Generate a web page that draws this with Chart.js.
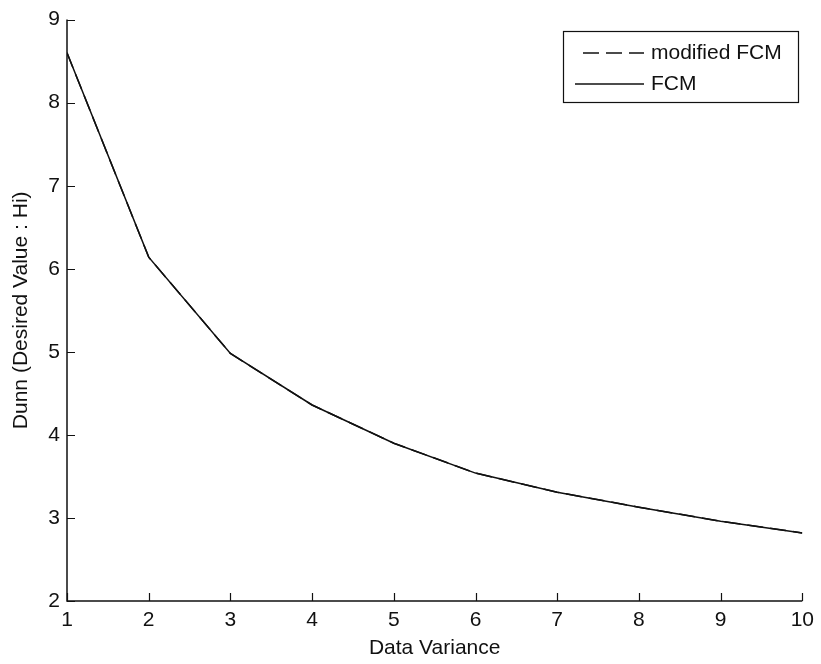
<!DOCTYPE html>
<html>
<head>
<meta charset="utf-8">
<script src="https://cdn.jsdelivr.net/npm/chart.js@4.4.0/dist/chart.umd.min.js"></script>
<style>
  html, body { margin: 0; padding: 0; background: #ffffff; }
  #wrap { width: 821px; height: 664px; position: relative; }
</style>
</head>
<body>
<div id="wrap"><canvas id="c" width="821" height="664"></canvas></div>
<script>
// ---- data ----
const dataVariance = [1, 2, 3, 4, 5, 6, 7, 8, 9, 10];
const fcm          = [8.60, 6.14, 4.98, 4.36, 3.90, 3.54, 3.31, 3.13, 2.96, 2.82];
const modifiedFcm  = [8.60, 6.14, 4.98, 4.36, 3.90, 3.54, 3.31, 3.13, 2.96, 2.82];
const xTicks = [1, 2, 3, 4, 5, 6, 7, 8, 9, 10];
const yTicks = [2, 3, 4, 5, 6, 7, 8, 9];
const seriesLabels = ['modified FCM', 'FCM'];
const xTitle = 'Data Variance';
const yTitle = 'Dunn (Desired Value : Hi)';

const FONT = '"Liberation Sans", Arial, Helvetica, sans-serif';
const FS = 21;
const INK = '#111111';

const toPts = (xs, ys) => xs.map((x, i) => ({ x: x, y: ys[i] }));

const matlabAxes = {
  id: 'matlabAxes',
  afterDatasetsDraw(chart) {
    const { ctx, chartArea: a, scales } = chart;
    const xs = scales.x, ys = scales.y;
    ctx.save();
    ctx.strokeStyle = INK;
    ctx.lineWidth = 1.5;
    ctx.setLineDash([]);
    ctx.beginPath();
    ctx.moveTo(a.left, a.top);
    ctx.lineTo(a.left, a.bottom);
    ctx.lineTo(a.right, a.bottom);
    ctx.stroke();
    const TL = 8;
    ctx.lineWidth = 1.2;
    ctx.beginPath();
    xTicks.forEach(v => {
      const px = Math.round(xs.getPixelForValue(v)) + 0.5;
      ctx.moveTo(px, a.bottom);
      ctx.lineTo(px, a.bottom - TL);
    });
    yTicks.forEach(v => {
      const py = Math.round(ys.getPixelForValue(v)) + 0.5;
      ctx.moveTo(a.left, py);
      ctx.lineTo(a.left + TL, py);
    });
    ctx.stroke();

    // legend box
    const L = { left: 563, top: 31, right: 798, bottom: 102 };
    ctx.fillStyle = '#ffffff';
    ctx.fillRect(L.left, L.top, L.right - L.left, L.bottom - L.top);
    ctx.lineWidth = 1.2;
    ctx.strokeRect(L.left + 0.5, L.top + 0.5, L.right - L.left, L.bottom - L.top);
    const rows = [53, 84];
    chart.data.datasets.forEach((ds, i) => {
      const y = rows[i];
      ctx.beginPath();
      ctx.lineWidth = 1.5;
      ctx.setLineDash(ds.borderDash || []);
      ctx.moveTo(i === 0 ? 583 : 575, y);
      ctx.lineTo(644, y);
      ctx.stroke();
      ctx.setLineDash([]);
      ctx.fillStyle = INK;
      ctx.font = FS + 'px ' + FONT;
      ctx.textBaseline = 'middle';
      ctx.textAlign = 'left';
      ctx.fillText(ds.label, 651, y);
    });
    ctx.restore();
  }
};

new Chart(document.getElementById('c'), {
  type: 'line',
  data: {
    datasets: [
      {
        label: seriesLabels[0],
        data: toPts(dataVariance, modifiedFcm),
        borderColor: INK,
        borderWidth: 1.5,
        borderDash: [16, 7],
        pointRadius: 0,
        tension: 0,
        fill: false,
        order: 2
      },
      {
        label: seriesLabels[1],
        data: toPts(dataVariance, fcm),
        borderColor: INK,
        borderWidth: 1.5,
        pointRadius: 0,
        tension: 0,
        fill: false,
        order: 1
      }
    ]
  },
  options: {
    responsive: false,
    animation: false,
    devicePixelRatio: 1,
    layout: { padding: { top: 19, right: 14, left: 0, bottom: 0 } },
    plugins: {
      legend: { display: false },
      tooltip: { enabled: false }
    },
    scales: {
      x: {
        type: 'linear',
        min: 1, max: 10,
        afterBuildTicks(s) { s.ticks = xTicks.map(v => ({ value: v })); },
        afterFit(s) { s.height = 63; },
        grid: { display: false, drawTicks: false },
        border: { display: false },
        ticks: {
          color: INK, padding: 7, maxRotation: 0, autoSkip: false,
          font: { family: FONT, size: FS }
        },
        title: {
          display: true, text: xTitle, color: INK,
          font: { family: FONT, size: FS },
          padding: { top: 0, bottom: 3 }
        }
      },
      y: {
        type: 'linear',
        min: 2, max: 9,
        afterBuildTicks(s) { s.ticks = yTicks.map(v => ({ value: v })); },
        afterFit(s) { s.width = 67; },
        grid: { display: false, drawTicks: false },
        border: { display: false },
        ticks: {
          color: INK, padding: 7, autoSkip: false,
          font: { family: FONT, size: FS }
        },
        title: {
          display: true, text: yTitle, color: INK,
          font: { family: FONT, size: FS },
          padding: { top: 9, bottom: 0 }
        }
      }
    }
  },
  plugins: [matlabAxes]
});
</script>
</body>
</html>
